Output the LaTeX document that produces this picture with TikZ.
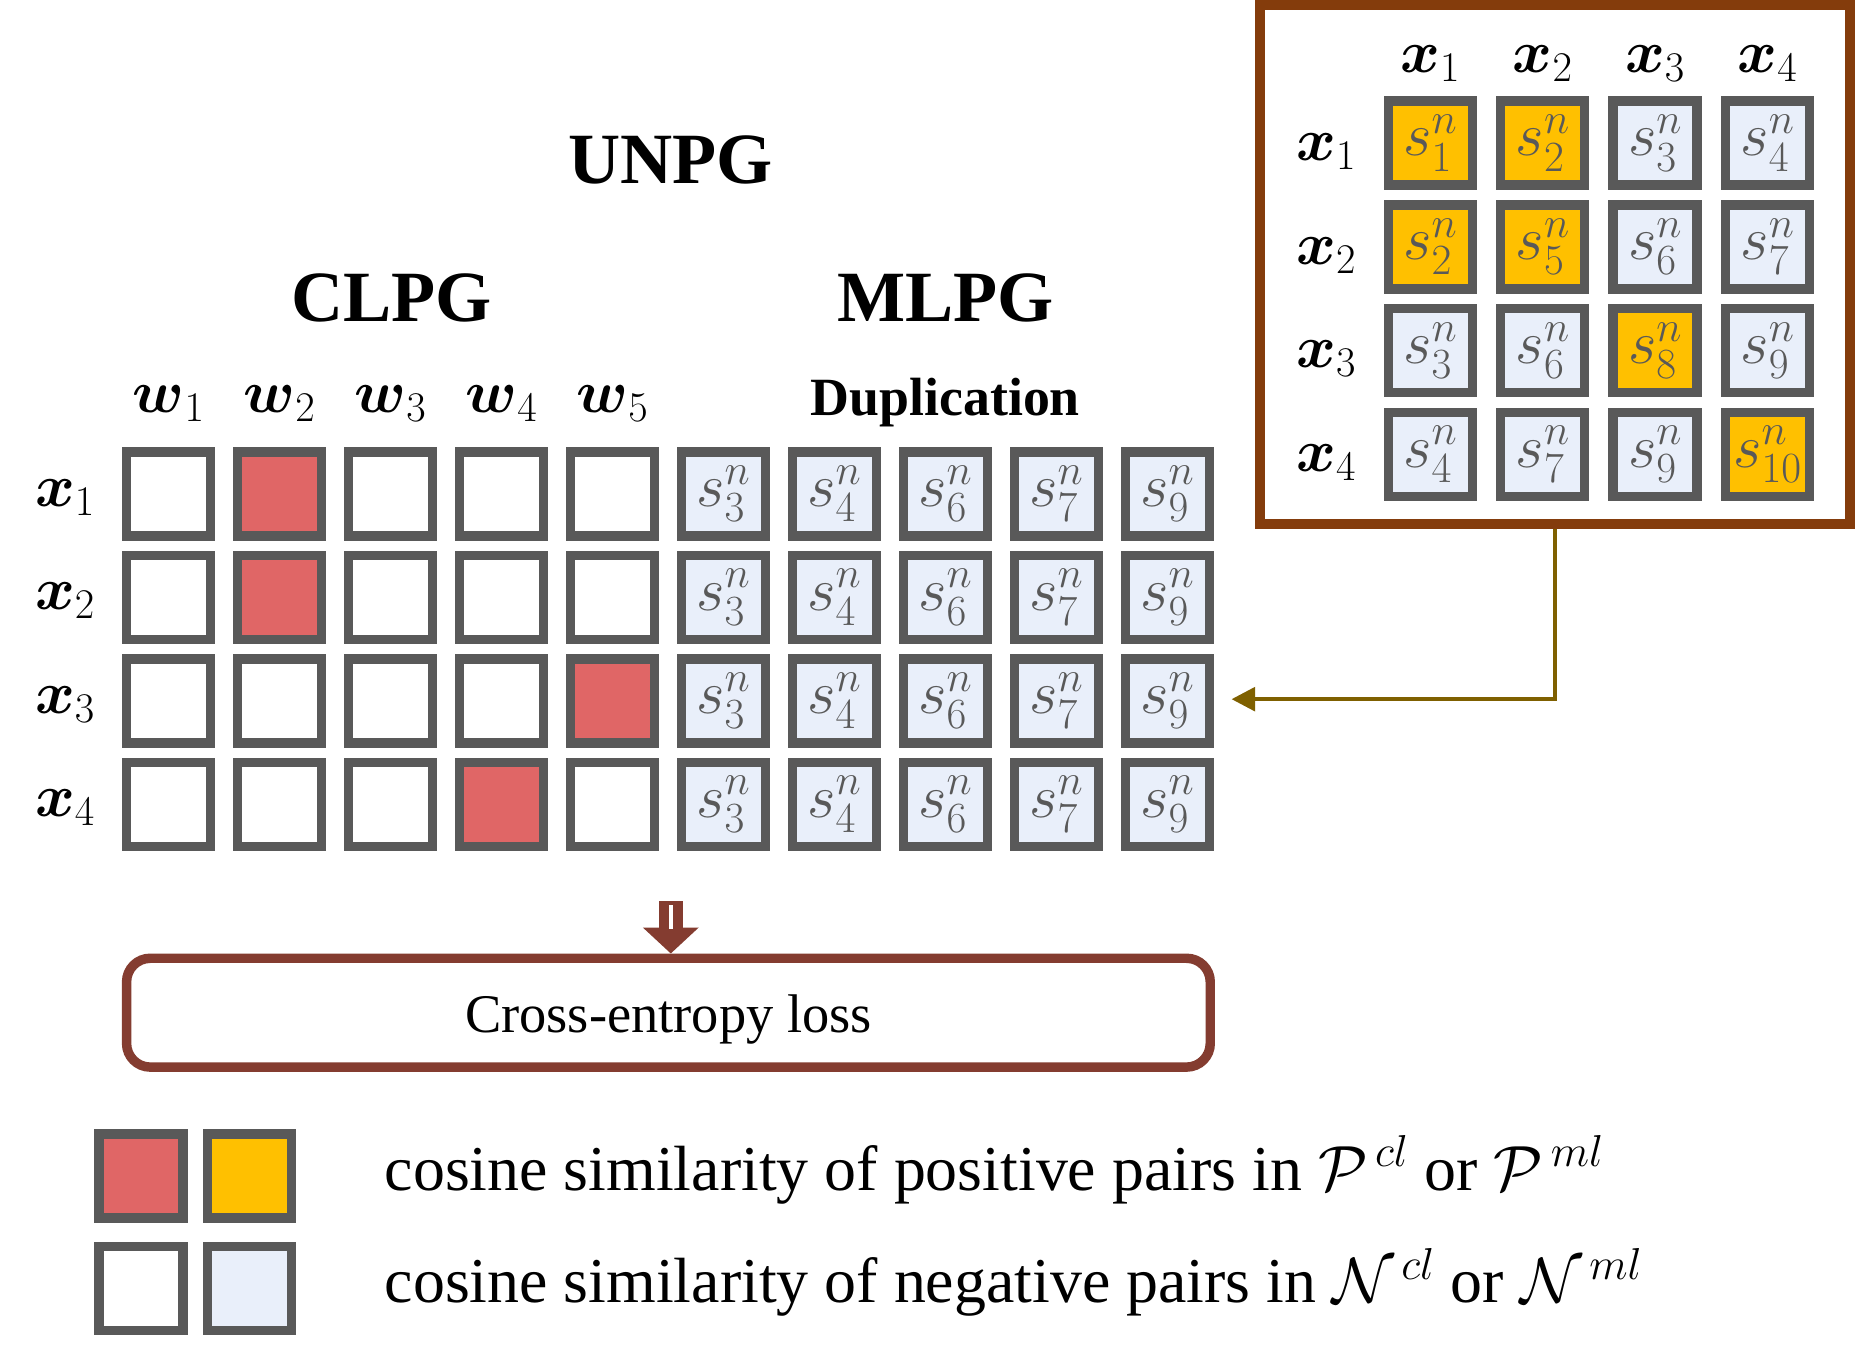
\RequirePackage{fix-cm}
\documentclass[tikz,border=0pt]{standalone}
\usepackage{amsmath}
\usepackage{fontspec}
\setmainfont{Liberation Serif}
\usetikzlibrary{arrows.meta}
\definecolor{boxgray}{HTML}{595959}
\definecolor{posred}{HTML}{E06666}
\definecolor{posyel}{HTML}{FFC000}
\definecolor{negblue}{HTML}{E9EFFA}
\definecolor{panelbrown}{HTML}{843C0C}
\definecolor{cebrown}{HTML}{843C30}
\definecolor{arrolive}{HTML}{7F6000}
\tikzset{
  cell/.style={draw=boxgray, line width=8pt, minimum size=71pt, inner sep=0pt,
    text=boxgray, font=\fontsize{52}{56}\selectfont},
  lbl/.style={inner sep=0pt, font=\fontsize{51}{56}\selectfont},
  titletext/.style={inner sep=0pt, font=\fontsize{61}{70}\selectfont\bfseries},
  legtext/.style={inner sep=0pt, anchor=base west, font=\fontsize{54}{60}\selectfont},
}
\begin{document}
\begin{tikzpicture}[x=1pt,y=-1pt]
\useasboundingbox (0,0) rectangle (1568,1150);
\fill[white] (0,0) rectangle (1568,1150);

% titles
\node[titletext, anchor=base] (unpg) at (567,155) {UNPG};
\node[titletext, anchor=base] (clpg) at (331,272) {CLPG};
\node[titletext, anchor=base] (mlpg) at (799,272) {MLPG};
\node[inner sep=0pt, anchor=base, font=\fontsize{45.5}{50}\selectfont\bfseries] (dup) at (799,351) {Duplication};

% w labels
\foreach \c in {1,...,5}{
  \node[lbl] (w\c) at ({142.5+93.8*(\c-1)},341) {$\boldsymbol{w}_{\c}$};
}
% row labels
\foreach \r in {1,...,4}{
  \node[lbl] (xl\r) at (55,{420.5+87.5*(\r-1)}) {$\boldsymbol{x}_{\r}$};
}
% CLPG cells
\foreach \r/\rc in {1/2,2/2,3/5,4/4}{
  \foreach \c in {1,...,5}{
    \ifnum\c=\rc \def\cellfill{posred}\else\def\cellfill{white}\fi
    \node[cell, fill=\cellfill] (L-\r-\c) at ({142.5+93.8*(\c-1)},{417.5+87.5*(\r-1)}) {};
  }
}
% MLPG duplicated cells
\foreach \r in {1,...,4}{
  \foreach \c/\k in {6/3,7/4,8/6,9/7,10/9}{
    \node[cell, fill=negblue] (L-\r-\c) at ({142.5+93.8*(\c-1)},{417.5+87.5*(\r-1)}) {$s_{\k}^{n}$};
  }
}

% panel
\node[draw=panelbrown, line width=8.5pt, minimum width=498.5pt, minimum height=438.5pt, inner sep=0pt] (panel) at (1314.5,223.5) {};
\foreach \c in {1,...,4}{
  \node[lbl] (px\c) at ({1209+95*(\c-1)},54) {$\boldsymbol{x}_{\c}$};
}
\foreach \r in {1,...,4}{
  \node[lbl] (py\r) at (1121,{128+87.7*(\r-1)}) {$\boldsymbol{x}_{\r}$};
}
\foreach \r/\c/\k/\f in {1/1/1/posyel,1/2/2/posyel,1/3/3/negblue,1/4/4/negblue,
  2/1/2/posyel,2/2/5/posyel,2/3/6/negblue,2/4/7/negblue,
  3/1/3/negblue,3/2/6/negblue,3/3/8/posyel,3/4/9/negblue,
  4/1/4/negblue,4/2/7/negblue,4/3/9/negblue,4/4/10/posyel}{
  \node[cell, fill=\f] (P-\r-\c) at ({1209+95*(\c-1)},{121+87.7*(\r-1)}) {$s_{\k}^{n}$};
}

% olive connector
\coordinate (arrtip) at (1041,591);
\draw[arrolive, line width=3.5pt, -{Triangle[length=20pt,width=20pt]}] (panel.south) |- (arrtip);

% cross-entropy box
\node[draw=cebrown, line width=8pt, rounded corners=20pt, minimum width=916pt, minimum height=92pt,
  inner sep=0pt] (ce) at (565,856) {};
\node[inner sep=0pt, anchor=base, font=\fontsize{46}{52}\selectfont] (celbl) at (565,873) {Cross-entropy loss};
\coordinate (arrtop) at (567,762);
\draw[cebrown, line width=20pt, -{Triangle[length=22pt,width=46pt]}] (arrtop) -- (arrtop |- ce.north);
\draw[white, line width=3.5pt] (567,765) -- (567,785);

% legend
\node[cell, fill=posred] (lg1) at (119,994) {};
\node[cell, fill=posyel] (lg2) at (211,994) {};
\node[cell, fill=white] (lg3) at (119,1089) {};
\node[cell, fill=negblue] (lg4) at (211,1089) {};
\node[legtext] (lt1) at (325,1006) {cosine similarity of positive pairs in $\mathcal{P}^{\,cl}$ or $\mathcal{P}^{\,ml}$};
\node[legtext] (lt2) at (325,1101) {cosine similarity of negative pairs in $\mathcal{N}^{\,cl}$ or $\mathcal{N}^{\,ml}$};
\end{tikzpicture}
\end{document}
